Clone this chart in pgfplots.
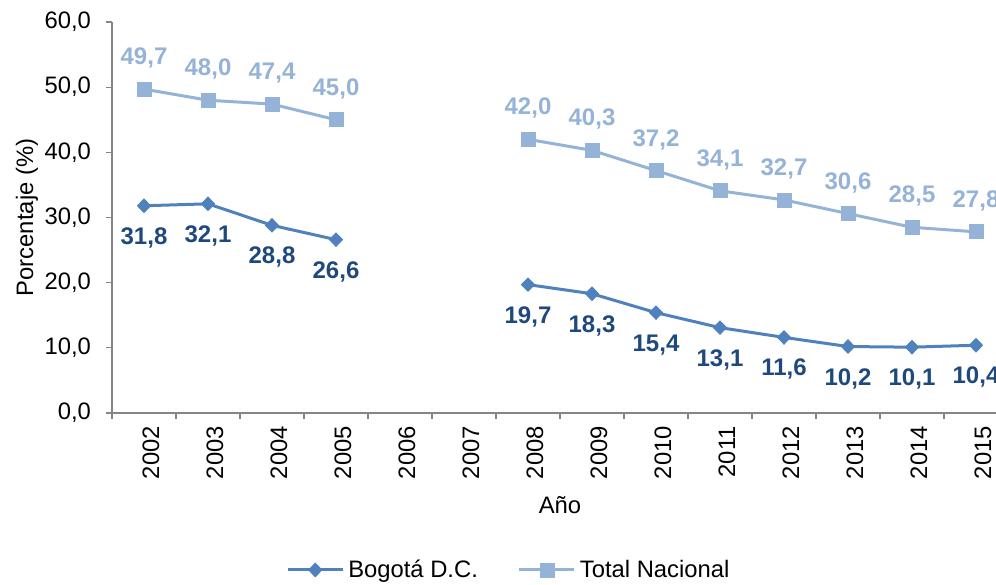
\documentclass[border=0pt]{standalone}
\usepackage{fontspec}
\setmainfont{Liberation Sans}
\usepackage{pgfplots}
\pgfplotsset{compat=1.18}
\definecolor{bogline}{HTML}{4F81BD}
\definecolor{boglab}{HTML}{1F497D}
\definecolor{natline}{HTML}{95B3D7}
\definecolor{natlab}{HTML}{95B3D7}
\definecolor{axgray}{HTML}{868686}
\begin{document}
\begin{tikzpicture}
\useasboundingbox (0,0) rectangle (498pt,292pt);
\clip (0,0) rectangle (498pt,292pt);
\begin{axis}[
  at={(56pt,85.5pt)}, anchor=south west,
  scale only axis, width=448pt, height=195.5pt,
  xmin=-0.5, xmax=13.5, ymin=0, ymax=60,
  axis lines*=left,
  axis line style={draw=axgray, line width=0.6pt},
  tick align=outside,
  xtick={0,...,13},
  xticklabels={2002,2003,2004,2005,2006,2007,2008,2009,2010,2011,2012,2013,2014,2015},
  major x tick style={draw=none},
  minor xtick={-0.5,0.5,...,13.5},
  minor x tick style={draw=axgray, line width=0.6pt},
  minor tick length=3pt,
  ytick={0,10,...,60},
  ytick style={draw=axgray, line width=0.6pt},
  major tick length=3pt,
  yticklabel={\pgfmathprintnumber[fixed,fixed zerofill,precision=1,use comma]{\tick}},
  /pgf/number format/assume math mode=true,
  ticklabel style={font=\fontsize{11.9}{14}\selectfont, text=black},
  xticklabel style={rotate=90, anchor=east, xshift=0pt, yshift=-3.5pt},
  yticklabel style={xshift=-4pt},
  xlabel={Año}, ylabel={Porcentaje (\%)},
  every axis x label/.style={at={(axis description cs:0.5,-0.235)}, anchor=center, font=\fontsize{11.9}{14}\selectfont},
  every axis y label/.style={at={(axis description cs:-0.095,0.5)}, anchor=center, rotate=90, font=\fontsize{11.9}{14}\selectfont},
  unbounded coords=jump,
  clip=false,
  legend style={at={(axis description cs:0.444,-0.4015)}, anchor=center, draw=none, fill=none,
    font=\fontsize{11.9}{14}\selectfont, legend columns=2,
    /tikz/every even column/.append style={column sep=18pt}},
  legend cell align=left,
  legend image code/.code={\draw[#1, mark repeat=2, mark phase=2] plot coordinates {(0pt,0pt) (13.75pt,0pt) (27.5pt,0pt)};},
  nodes near coords,
  point meta=y,
  nodes near coords={\pgfmathprintnumber[fixed,fixed zerofill,precision=1,use comma]{\pgfplotspointmeta}},
]
\addplot[color=bogline, line width=1.5pt, mark=diamond*, mark size=3.4pt,
  mark options={xscale=1.3, fill=bogline, draw=bogline, line width=0.4pt},
  every node near coord/.append style={anchor=center, yshift=-16pt, text=boglab,
    font=\bfseries\fontsize{12}{14}\selectfont}]
coordinates {(0,31.8) (1,32.1) (2,28.8) (3,26.6) (4,nan) (5,nan) (6,19.7) (7,18.3) (8,15.4) (9,13.1) (10,11.6) (11,10.2) (12,10.1) (13,10.4)};
\addlegendentry{Bogotá D.C.}
\addplot[color=natline, line width=1.5pt, mark=square*, mark size=3.5pt,
  mark options={fill=natline, draw=natline, line width=0.4pt},
  every node near coord/.append style={anchor=center, yshift=15.5pt, text=natlab,
    font=\bfseries\fontsize{12}{14}\selectfont}]
coordinates {(0,49.7) (1,48.0) (2,47.4) (3,45.0) (4,nan) (5,nan) (6,42.0) (7,40.3) (8,37.2) (9,34.1) (10,32.7) (11,30.6) (12,28.5) (13,27.8)};
\addlegendentry{Total Nacional}
\end{axis}
\end{tikzpicture}
\end{document}
